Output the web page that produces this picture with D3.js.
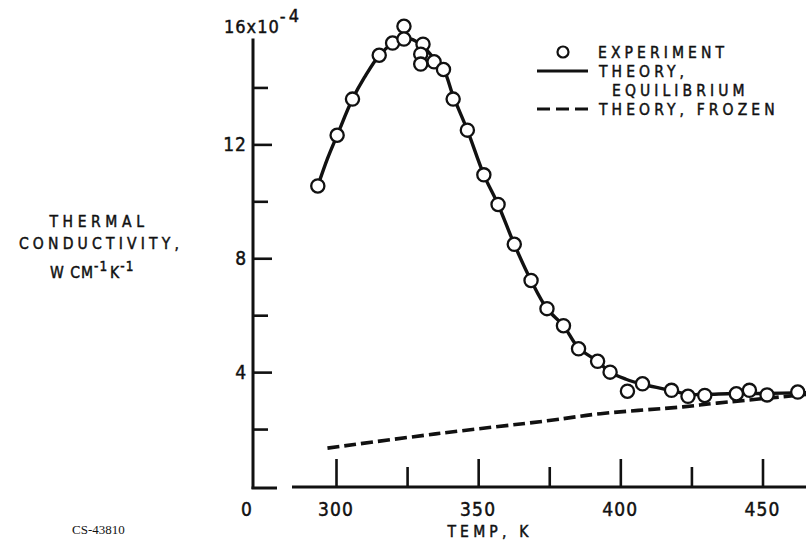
<!DOCTYPE html>
<html>
<head>
<meta charset="utf-8">
<script src="https://cdn.jsdelivr.net/npm/d3@7"></script>
<style>
  html, body { margin: 0; padding: 0; background: #fff; }
  svg { display: block; }
  .lbl { font-family: "DejaVu Sans Condensed", "DejaVu Sans", sans-serif; fill: #111; stroke: #111; stroke-width: 0.45px; }
</style>
</head>
<body>
<svg id="chart" width="806" height="547"></svg>
<script>
// Measured thermal conductivity (x1e-4 W/cm/K) against temperature (K)
const expTemp = [293.6, 300.4, 305.8, 315.2, 319.9, 323.9, 323.9, 330.6, 329.8, 329.8, 334.5, 337.8,
                 341.2, 346.2, 352.0, 357.0, 362.7, 368.6, 374.2, 380.0, 385.3, 392.0, 396.4, 402.5,
                 407.8, 418.0, 423.8, 429.7, 440.8, 445.4, 451.6, 462.4];
const expCond = [10.54, 12.32, 13.59, 15.13, 15.56, 16.15, 15.70, 15.52, 15.17, 14.82, 14.90, 14.63,
                 13.59, 12.50, 10.93, 9.89, 8.49, 7.22, 6.23, 5.63, 4.82, 4.38, 4.00, 3.33,
                 3.59, 3.36, 3.15, 3.18, 3.24, 3.36, 3.20, 3.30];

// Equilibrium theory curve
const eqTemp = [293.6, 297.0, 300.4, 305.8, 310.0, 315.2, 319.9, 323.5, 327.0, 331.0, 335.0, 338.0,
                341.2, 346.2, 352.0, 357.0, 362.7, 368.6, 374.2, 380.0, 385.3, 392.0, 396.4, 402.0,
                408.0, 418.0, 424.0, 430.0, 440.0, 450.0, 466.0];
const eqCond = [10.54, 11.50, 12.32, 13.59, 14.35, 15.13, 15.55, 15.72, 15.68, 15.40, 14.95, 14.60,
                13.70, 12.50, 10.93, 9.89, 8.49, 7.22, 6.23, 5.63, 4.85, 4.38, 4.00, 3.75,
                3.57, 3.35, 3.22, 3.22, 3.25, 3.25, 3.28];

// Frozen theory curve
const frozenTemp = [297.0, 335.0, 375.0, 393.0, 422.0, 434.0, 466.0];
const frozenCond = [1.33, 1.83, 2.30, 2.54, 2.78, 2.91, 3.22];

// Axis ticks
const xMajorTicks = [300, 350, 400, 450];
const xMinorTicks = [325, 375, 425];
const yMajorTicks = [4, 8, 12];
const yMinorTicks = [2, 6, 10, 14];

const svg = d3.select("#chart");
const ink = "#111";

const x = d3.scaleLinear().domain([300, 450]).range([336, 762.5]);
const y = d3.scaleLinear().domain([0, 16]).range([486, 30.5]);

// ---- y axis ----
const yAxisX = 253;
svg.append("line").attr("x1", yAxisX).attr("x2", yAxisX)
  .attr("y1", y(15.72)).attr("y2", 489)
  .attr("stroke", ink).attr("stroke-width", 3);
svg.append("line").attr("x1", yAxisX - 1.5).attr("x2", 277)
  .attr("y1", 488).attr("y2", 488)
  .attr("stroke", ink).attr("stroke-width", 3);

const yAxis = d3.axisRight(y).tickValues(yMajorTicks).tickSize(19).tickFormat("");
const gy = svg.append("g").attr("transform", `translate(${yAxisX},0)`).call(yAxis);
gy.select(".domain").remove();
gy.selectAll(".tick line").attr("stroke", ink).attr("stroke-width", 2.6);

const yAxisMinor = d3.axisRight(y).tickValues(yMinorTicks).tickSize(15).tickFormat("");
const gy2 = svg.append("g").attr("transform", `translate(${yAxisX},0)`).call(yAxisMinor);
gy2.select(".domain").remove();
gy2.selectAll(".tick line").attr("stroke", ink).attr("stroke-width", 2.6);

// y tick labels
yMajorTicks.forEach(v => {
  svg.append("text").attr("class", "lbl")
    .attr("x", 247).attr("y", y(v)).attr("dy", "0.36em")
    .attr("text-anchor", "end").attr("font-size", 19)
    .attr("letter-spacing", 1).text(v);
});
svg.append("text").attr("class", "lbl")
  .attr("x", 246.5).attr("y", 516).attr("text-anchor", "middle")
  .attr("font-size", 19).text("0");

// top label 16x10^-4
const topLbl = svg.append("text").attr("class", "lbl")
  .attr("x", 224).attr("y", 33).attr("font-size", 18).attr("letter-spacing", 1);
topLbl.append("tspan").text("16x10");
topLbl.append("tspan").attr("dy", -11).attr("dx", 0).attr("font-size", 18).attr("letter-spacing", 3).text("-4");

// y title
const titleSize = 15.5;
const yTitle = svg.append("g");
yTitle.append("text").attr("class", "lbl").attr("x", 99).attr("y", 227)
  .attr("text-anchor", "middle").attr("font-size", titleSize).attr("letter-spacing", 4.6).text("THERMAL");
yTitle.append("text").attr("class", "lbl").attr("x", 101).attr("y", 249)
  .attr("text-anchor", "middle").attr("font-size", titleSize).attr("letter-spacing", 4.2).text("CONDUCTIVITY,");
const unit = yTitle.append("text").attr("class", "lbl").attr("x", 50).attr("y", 278)
  .attr("font-size", titleSize).attr("letter-spacing", 1);
unit.append("tspan").text("W CM");
unit.append("tspan").attr("dy", -7).attr("font-size", 13.5).text("-1");
unit.append("tspan").attr("dy", 7).attr("dx", 2).text("K");
unit.append("tspan").attr("dy", -7).attr("font-size", 13.5).text("-1");

// ---- x axis ----
const xAxisY = 487;
const xAxis = d3.axisTop(x).tickValues(xMajorTicks).tickSize(28).tickFormat("");
const gx = svg.append("g").attr("transform", `translate(0,${xAxisY})`).call(xAxis);
gx.select(".domain").remove();
gx.selectAll(".tick line").attr("stroke", ink).attr("stroke-width", 2.6);

const xAxisMinor = d3.axisTop(x).tickValues(xMinorTicks).tickSize(20).tickFormat("");
const gx2 = svg.append("g").attr("transform", `translate(0,${xAxisY})`).call(xAxisMinor);
gx2.select(".domain").remove();
gx2.selectAll(".tick line").attr("stroke", ink).attr("stroke-width", 2.6);

svg.append("line").attr("x1", 292).attr("x2", 806)
  .attr("y1", xAxisY).attr("y2", xAxisY)
  .attr("stroke", ink).attr("stroke-width", 3);

xMajorTicks.forEach(v => {
  svg.append("text").attr("class", "lbl")
    .attr("x", x(v)).attr("y", 516).attr("text-anchor", "middle")
    .attr("font-size", 19).attr("letter-spacing", 1.2).text(v);
});
svg.append("text").attr("class", "lbl")
  .attr("x", 490).attr("y", 537).attr("text-anchor", "middle")
  .attr("font-size", titleSize).attr("letter-spacing", 4.2).text("TEMP, K");

// figure code
svg.append("text").attr("x", 72).attr("y", 534)
  .attr("font-family", "Liberation Serif, serif").attr("font-size", 13)
  .attr("fill", ink).text("CS-43810");

// ---- curves ----
const eqData = eqTemp.map((t, i) => [t, eqCond[i]]);
const frozenData = frozenTemp.map((t, i) => [t, frozenCond[i]]);
const lineGen = d3.line().x(d => x(d[0])).y(d => y(d[1])).curve(d3.curveCatmullRom.alpha(0.5));

svg.append("path").datum(frozenData).attr("d", lineGen)
  .attr("fill", "none").attr("stroke", ink).attr("stroke-width", 3.6)
  .attr("stroke-dasharray", "12 5");

svg.append("path").datum(eqData).attr("d", lineGen)
  .attr("fill", "none").attr("stroke", ink).attr("stroke-width", 3.4);

// experiment points
const expData = expTemp.map((t, i) => [t, expCond[i]]);
svg.append("g").selectAll("circle").data(expData).join("circle")
  .attr("cx", d => x(d[0])).attr("cy", d => y(d[1])).attr("r", 6.6)
  .attr("fill", "#fff").attr("stroke", ink).attr("stroke-width", 2.3);

// ---- legend ----
const legRowY = [52, 71, 90, 109];
const lg = svg.append("g");
lg.append("circle").attr("cx", 563).attr("cy", legRowY[0]).attr("r", 5.5)
  .attr("fill", "#fff").attr("stroke", ink).attr("stroke-width", 2.2);
lg.append("line").attr("x1", 537).attr("x2", 588).attr("y1", legRowY[1]).attr("y2", legRowY[1])
  .attr("stroke", ink).attr("stroke-width", 3);
lg.append("line").attr("x1", 537).attr("x2", 589).attr("y1", legRowY[3]).attr("y2", legRowY[3])
  .attr("stroke", ink).attr("stroke-width", 3).attr("stroke-dasharray", "13 6");

const legTexts = [
  { txt: "EXPERIMENT", x: 598, row: 0 },
  { txt: "THEORY,", x: 599, row: 1 },
  { txt: "EQUILIBRIUM", x: 612, row: 2 },
  { txt: "THEORY, FROZEN", x: 599, row: 3 }
];
legTexts.forEach(d => {
  lg.append("text").attr("class", "lbl")
    .attr("x", d.x).attr("y", legRowY[d.row]).attr("dy", "0.36em")
    .attr("font-size", titleSize).attr("letter-spacing", 4.1).text(d.txt);
});
</script>
</body>
</html>
